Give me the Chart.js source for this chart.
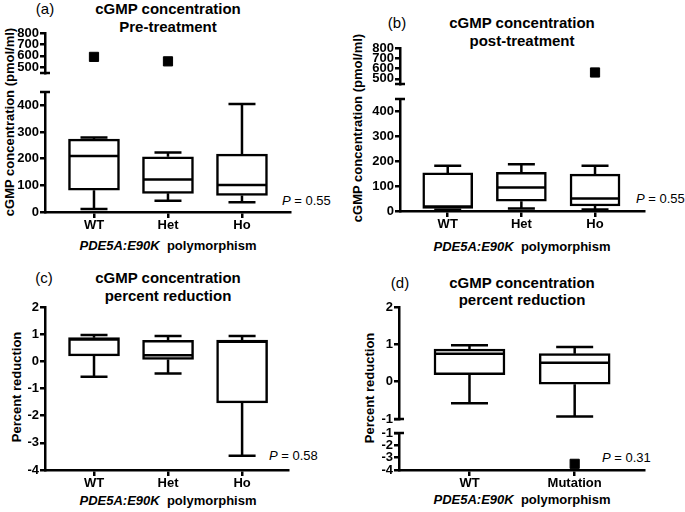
<!DOCTYPE html>
<html>
<head>
<meta charset="utf-8">
<script src="https://cdn.jsdelivr.net/npm/chart.js@4.4.1/dist/chart.umd.min.js"></script>
<style>
  body { margin: 0; width: 685px; height: 512px; position: relative; overflow: hidden; background: #fff;
         font-family: "Liberation Sans", Arial, sans-serif; color: #000; }
  .seg { position: absolute; }
  .t { position: absolute; white-space: nowrap; transform: translate(-50%, -50%); }
  .ttl { font-size: 15px; font-weight: bold; }
  .lab { font-size: 15px; }
  .xt { font-size: 13px; font-weight: bold; }
  .yt { font-size: 13px; font-weight: bold; transform: translate(-50%, -50%) rotate(-90deg); }
  .p { position: absolute; white-space: nowrap; font-size: 13px; transform: translateY(-50%); }
</style>
</head>
<body>

<div class="t lab" style="left:45px;top:8px">(a)</div>
<div class="t ttl" style="left:168px;top:8px">cGMP concentration</div>
<div class="t ttl" style="left:168px;top:26px">Pre-treatment</div>
<div class="t yt" style="left:9px;top:122px">cGMP concentration (pmol/ml)</div>
<div class="t xt" style="left:168px;top:245px"><i>PDE5A:E90K</i>&nbsp; polymorphism</div>
<div class="p" style="left:282px;top:200px"><i>P</i> = 0.55</div>

<div class="t lab" style="left:397px;top:22px">(b)</div>
<div class="t ttl" style="left:522px;top:22px">cGMP concentration</div>
<div class="t ttl" style="left:522px;top:40px">post-treatment</div>
<div class="t yt" style="left:357px;top:128px">cGMP concentration (pmol/ml)</div>
<div class="t xt" style="left:522px;top:246px"><i>PDE5A:E90K</i>&nbsp; polymorphism</div>
<div class="p" style="left:636px;top:198px"><i>P</i> = 0.55</div>

<div class="t lab" style="left:44px;top:277px">(c)</div>
<div class="t ttl" style="left:168px;top:277px">cGMP concentration</div>
<div class="t ttl" style="left:168px;top:295px">percent reduction</div>
<div class="t yt" style="left:16px;top:387px">Percent reduction</div>
<div class="t xt" style="left:168px;top:500px"><i>PDE5A:E90K</i>&nbsp; polymorphism</div>
<div class="p" style="left:269px;top:455px"><i>P</i> = 0.58</div>

<div class="t lab" style="left:400px;top:282px">(d)</div>
<div class="t ttl" style="left:522px;top:282px">cGMP concentration</div>
<div class="t ttl" style="left:522px;top:299px">percent reduction</div>
<div class="t yt" style="left:369px;top:388px">Percent reduction</div>
<div class="t xt" style="left:522px;top:499px"><i>PDE5A:E90K</i>&nbsp; polymorphism</div>
<div class="p" style="left:602px;top:457px"><i>P</i> = 0.31</div>

<script>
// categories
const genotypes = ["WT", "Het", "Ho"];
const carriers = ["WT", "Mutation"];

// box stats per group: [min, q1, median, q3, max]
const preTreatment = [[11, 82, 210, 273, 279], [42, 70, 122, 207, 223], [37, 62, 101, 217, 405]];
const postTreatment = [[5, 10, 18, 153, 182], [10, 39, 94, 155, 188], [6, 20, 50, 148, 182]];
const reductionByGenotype = [[-0.57, 0.2, 0.8, 0.87, 0.97], [-0.45, 0.07, 0.22, 0.77, 0.93], [-3.48, -1.53, 0.72, 0.78, 0.93]];
const reductionByCarrier = [[-0.575, 0.19, 0.75, 0.87, 0.976], [-0.93, -0.07, 0.51, 0.75, 0.93]];

// outliers: [group index, value]
const preOutliers = [[0, 591], [1, 552]];
const postOutliers = [[2, 562]];
const carrierOutliers = [[1, -3.5]];

// tick labels
const concTicksLow = [0, 100, 200, 300, 400];
const concTicksHigh = [500, 600, 700, 800];
const reductionTicks = [-4, -3, -2, -1, 0, 1, 2];
const reductionTicksHigh = [-1, 0, 1, 2];
const reductionTicksLow = [-4, -3, -2, -1];

const FONT = "'Liberation Sans', Arial, sans-serif";
const YW = 44, PAD = 12, XH = 26, LW = 2.5;

// whiskers, medians and the little caps where the y axis is broken
const whiskers = {
  id: "whiskers",
  afterDatasetsDraw(chart, args, opts) {
    const {ctx, chartArea, scales: {x, y}} = chart;
    ctx.save();
    ctx.strokeStyle = "#000";
    ctx.lineWidth = LW;
    ctx.beginPath();
    (opts.stats || []).forEach((s, i) => {
      const cx = x.getPixelForValue(i);
      const half = opts.boxW / 2, cap = opts.capW / 2;
      const [lo, q1, med, q3, hi] = s.map(v => y.getPixelForValue(v));
      ctx.moveTo(cx, q3); ctx.lineTo(cx, hi);
      ctx.moveTo(cx - cap, hi); ctx.lineTo(cx + cap, hi);
      ctx.moveTo(cx, q1); ctx.lineTo(cx, lo);
      ctx.moveTo(cx - cap, lo); ctx.lineTo(cx + cap, lo);
      ctx.moveTo(cx - half + 1, med); ctx.lineTo(cx + half - 1, med);
    });
    (opts.breaks || []).forEach(v => {
      const py = y.getPixelForValue(v);
      ctx.moveTo(chartArea.left - 5, py); ctx.lineTo(chartArea.left + 5, py);
    });
    ctx.stroke();
    ctx.restore();
  }
};

function segment(cfg) {
  const div = document.createElement("div");
  div.className = "seg";
  const h = cfg.bottom - cfg.top;
  div.style.left = (cfg.axisX - YW) + "px";
  div.style.top = (cfg.top - PAD) + "px";
  div.style.width = (cfg.right - cfg.axisX + YW + PAD) + "px";
  div.style.height = (h + PAD + (cfg.cats ? XH : PAD)) + "px";
  const canvas = document.createElement("canvas");
  div.appendChild(canvas);
  document.body.appendChild(div);

  const stats = cfg.stats || [];
  const outliers = cfg.outliers || [];
  const cats = cfg.cats || [];
  const tickFont = {family: FONT, size: 13, weight: "bold"};

  new Chart(canvas, {
    type: "bar",
    data: {
      datasets: [
        {
          type: "bar",
          data: stats.map((s, i) => ({x: i, y: [s[1], s[3]]})),
          backgroundColor: "#fff",
          borderColor: "#000",
          borderWidth: LW,
          borderSkipped: false,
          barThickness: cfg.boxW,
        },
        {
          type: "scatter",
          data: outliers.map(o => ({x: o[0], y: o[1]})),
          pointStyle: "rect",
          pointRadius: 6.5,
          backgroundColor: "#000",
          borderColor: "#000",
          borderWidth: 1,
        },
      ],
    },
    options: {
      responsive: true,
      maintainAspectRatio: false,
      animation: false,
      events: [],
      layout: {padding: {top: PAD, right: PAD, bottom: cfg.cats ? 0 : PAD, left: 0}},
      plugins: {
        legend: {display: false},
        tooltip: {enabled: false},
        whiskers: {stats: stats, boxW: cfg.boxW, capW: cfg.capW, breaks: cfg.breaks},
      },
      scales: {
        x: {
          type: "linear",
          display: !!cfg.cats,
          offset: false,
          min: cfg.xMin,
          max: cfg.xMax,
          afterBuildTicks: s => { s.ticks = cats.map((c, i) => ({value: i})); },
          afterFit: s => { if (cfg.cats) s.height = XH; },
          border: {color: "#000", width: LW},
          grid: {offset: false, drawOnChartArea: false, drawTicks: true, tickLength: 6, color: "#000", lineWidth: LW},
          ticks: {
            autoSkip: false, maxRotation: 0, padding: 0, color: "#000", font: tickFont,
            callback: v => cats[v],
          },
        },
        y: {
          min: cfg.yMin,
          max: cfg.yMax,
          afterBuildTicks: s => { s.ticks = cfg.ticks.map(v => ({value: v})); },
          afterFit: s => { s.width = YW; },
          border: {color: "#000", width: LW},
          grid: {drawOnChartArea: false, drawTicks: true, tickLength: 5, color: "#000", lineWidth: LW},
          ticks: {autoSkip: false, padding: 1, color: "#000", font: tickFont, callback: v => String(v)},
        },
      },
    },
    plugins: [whiskers],
  });
}

// (a) pre-treatment, broken axis
segment({axisX: 45, right: 290, top: 33, bottom: 73, yMin: 450, yMax: 800, ticks: concTicksHigh,
         xMin: -0.662, xMax: 2.649, outliers: preOutliers, breaks: [450], boxW: 51, capW: 27});
segment({axisX: 45, right: 290, top: 92, bottom: 212, yMin: 0, yMax: 450, ticks: concTicksLow,
         xMin: -0.662, xMax: 2.649, stats: preTreatment, cats: genotypes, breaks: [450], boxW: 51, capW: 27});

// (b) post-treatment, broken axis
segment({axisX: 400, right: 644, top: 48, bottom: 84, yMin: 450, yMax: 800, ticks: concTicksHigh,
         xMin: -0.648, xMax: 2.665, outliers: postOutliers, breaks: [450], boxW: 50, capW: 27});
segment({axisX: 400, right: 644, top: 99, bottom: 211, yMin: 0, yMax: 450, ticks: concTicksLow,
         xMin: -0.648, xMax: 2.665, stats: postTreatment, cats: genotypes, breaks: [450], boxW: 50, capW: 27});

// (c) percent reduction by genotype
segment({axisX: 45, right: 288, top: 307, bottom: 470, yMin: -4, yMax: 2, ticks: reductionTicks,
         xMin: -0.662, xMax: 2.62, stats: reductionByGenotype, cats: genotypes, boxW: 51, capW: 27});

// (d) percent reduction WT vs mutation, broken axis
segment({axisX: 399, right: 644, top: 307, bottom: 419, yMin: -1, yMax: 2, ticks: reductionTicksHigh,
         xMin: -0.67, xMax: 1.659, stats: reductionByCarrier, breaks: [-1], boxW: 71, capW: 37});
segment({axisX: 399, right: 644, top: 433, bottom: 470, yMin: -4, yMax: -1, ticks: reductionTicksLow,
         xMin: -0.67, xMax: 1.659, outliers: carrierOutliers, cats: carriers, breaks: [-1], boxW: 71, capW: 37});
</script>
</body>
</html>
